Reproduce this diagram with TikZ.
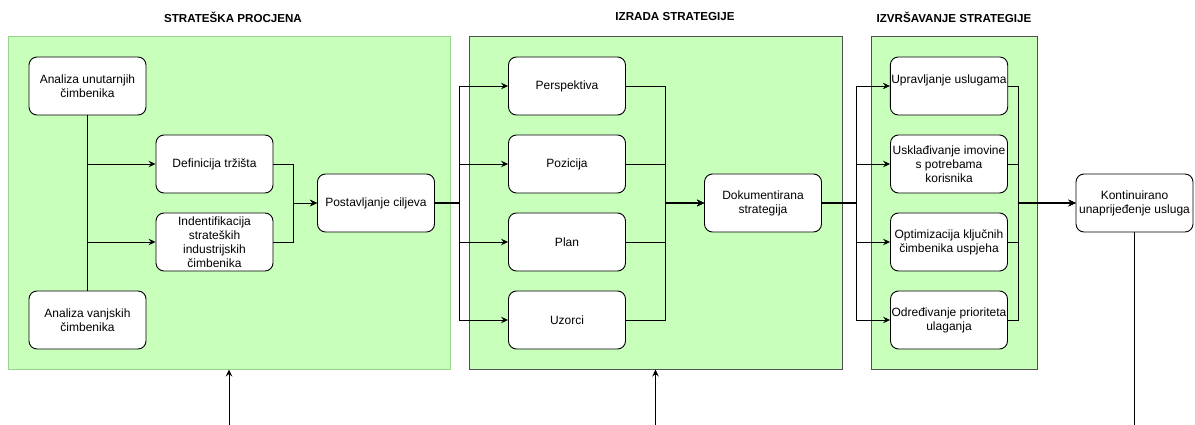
\documentclass[tikz,border=0pt]{standalone}
\usepackage{fontspec}
\setmainfont{Liberation Sans}
\usetikzlibrary{arrows.meta}
\definecolor{gfill}{RGB}{199,255,187}
\definecolor{gborder}{RGB}{150,215,140}
\definecolor{dborder}{RGB}{80,80,80}
\tikzset{
  box/.style={draw=black, fill=white, rounded corners=8pt, line width=0.9pt,
    minimum width=117pt, minimum height=58pt, inner sep=1pt, align=center,
    font=\fontsize{12}{14}\selectfont},
  cont/.style={fill=gfill, line width=1pt},
  ttl/.style={font=\fontsize{11.6}{14}\selectfont\bfseries},
  conn/.style={draw=black, line width=0.9pt},
  trunk/.style={draw=black, line width=1.6pt},
  arr/.style={conn, -{Stealth[length=7pt,width=6.5pt,inset=2.5pt]}},
}
\begin{document}
\begin{tikzpicture}[x=1pt,y=-1pt]
\useasboundingbox (0,0) rectangle (1195,425);
\coordinate (bot) at (0,425);
% containers
\node[cont, draw=gborder, minimum width=442pt, minimum height=332pt, inner sep=0pt] (c1) at (229,203) {};
\node[cont, draw=dborder, minimum width=373pt, minimum height=332pt, inner sep=0pt] (c2) at (655.5,203) {};
\node[cont, draw=dborder, minimum width=166pt, minimum height=332pt, inner sep=0pt] (c3) at (954,203) {};
% titles
\node[ttl] (t1) at (233,17) {STRATEŠKA PROCJENA};
\node[ttl] (t2) at (675,17) {IZRADA STRATEGIJE};
\node[ttl] (t3) at (954,17) {IZVRŠAVANJE STRATEGIJE};
% container 1
\node[box] (anu) at (87.5,86) {Analiza unutarnjih\\čimbenika};
\node[box] (anv) at (87.5,320) {Analiza vanjskih\\čimbenika};
\node[box] (def) at (214.5,164) {Definicija tržišta};
\node[box] (ind) at (214.5,242) {Indentifikacija\\strateških\\industrijskih\\čimbenika};
\node[box] (post) at (376,203) {Postavljanje ciljeva};
% container 2
\node[box] (per) at (567,86) {Perspektiva};
\node[box] (poz) at (567,164) {Pozicija};
\node[box] (pla) at (567,242) {Plan};
\node[box] (uzo) at (567,320) {Uzorci};
\node[box] (dok) at (763,203) {Dokumentirana\\strategija};
% container 3
\node[box] (upr) at (949,86) {Upravljanje uslugama\\\mbox{}};
\node[box] (usk) at (949,164) {Usklađivanje imovine\\s potrebama\\korisnika};
\node[box] (opt) at (949,242) {Optimizacija ključnih\\čimbenika uspjeha};
\node[box] (odr) at (949,320) {Određivanje prioriteta\\ulaganja};
% outside
\node[box] (kon) at (1134.5,203) {Kontinuirano\\unaprijeđenje usluga};
% connectors container 1
\draw[conn] (anu.south) -- (anv.north);
\draw[arr] (anu.south |- def.west) -- (def.west);
\draw[arr] (anu.south |- ind.west) -- (ind.west);
\draw[arr] (def.east) -- ++(20,0) |- (post.west);
\draw[arr] (ind.east) -- ++(20,0) |- (post.west);
% post -> container 2
\foreach \n in {per,poz,pla,uzo} \draw[arr] (post.east) -- ++(24,0) |- (\n.west);
\draw[trunk] (post.east) -- ++(24,0);
\foreach \n in {per,poz,pla,uzo} \draw[arr] (\n.east) -- ++(39,0) |- (dok.west);
\draw[trunk] (dok.west) ++(-39,0) -- ++(34,0);
% dok -> container 3
\foreach \n in {upr,usk,opt,odr} \draw[arr] (dok.east) -- ++(34,0) |- (\n.west);
\draw[trunk] (dok.east) -- ++(34,0);
\foreach \n in {upr,usk,opt,odr} \draw[arr] (\n.east) -- ++(10,0) |- (kon.west);
\draw[trunk] (kon.west) ++(-58,0) -- ++(53,0);
% bottom
\draw[arr] (c1.south |- bot) -- (c1.south);
\draw[arr] (c2.south |- bot) -- (c2.south);
\draw[conn] (kon.south) -- (kon.south |- bot);
\end{tikzpicture}
\end{document}
